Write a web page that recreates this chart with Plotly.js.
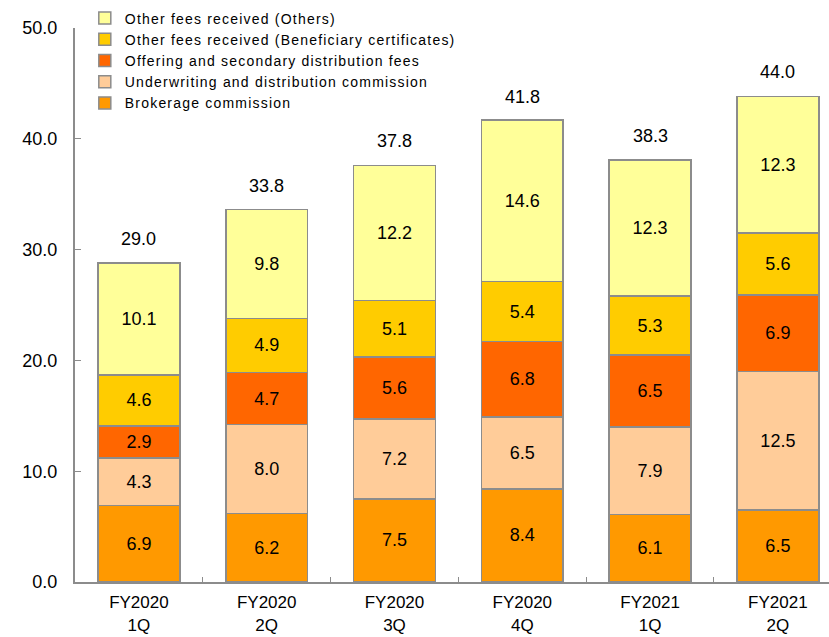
<!DOCTYPE html>
<html>
<head>
<meta charset="utf-8">
<script src="https://cdn.plot.ly/plotly-3.0.1.min.js"></script>
<style>
  html, body { margin: 0; padding: 0; background: #ffffff; }
  #chart { width: 829px; height: 637px; }
  /* slightly tracked legend lettering */
  #chart .legendtext { letter-spacing: 1.2px; }
</style>
</head>
<body>
<div id="chart"></div>
<script>
// Quarterly commission and fee breakdown (billions of yen)
const categories = ["FY2020<br>1Q", "FY2020<br>2Q", "FY2020<br>3Q", "FY2020<br>4Q", "FY2021<br>1Q", "FY2021<br>2Q"];

const brokerage    = [6.9, 6.2, 7.5, 8.4, 6.1, 6.5];
const underwriting = [4.3, 8.0, 7.2, 6.5, 7.9, 12.5];
const offering     = [2.9, 4.7, 5.6, 6.8, 6.5, 6.9];
const beneficiary  = [4.6, 4.9, 5.1, 5.4, 5.3, 5.6];
const others       = [10.1, 9.8, 12.2, 14.6, 12.3, 12.3];
const totals       = [29.0, 33.8, 37.8, 41.8, 38.3, 44.0];

const yTicks = [0, 10, 20, 30, 40, 50];

const FONT = "Liberation Sans, Arial, sans-serif";
const OUTLINE = "#8c8c8c";

function seriesTrace(name, values, color) {
  return {
    type: "bar",
    name: name,
    x: categories,
    y: values,
    marker: { color: color, line: { color: OUTLINE, width: 1.5 } },
    text: values.map(v => v.toFixed(1)),
    textposition: "inside",
    insidetextanchor: "middle",
    textangle: 0,
    constraintext: "none",
    textfont: { family: FONT, size: 18, color: "#000000" },
    hoverinfo: "skip"
  };
}

const data = [
  seriesTrace("Brokerage commission", brokerage, "#FF9900"),
  seriesTrace("Underwriting and distribution commission", underwriting, "#FFCC99"),
  seriesTrace("Offering and secondary distribution fees", offering, "#FF6600"),
  seriesTrace("Other fees received (Beneficiary certificates)", beneficiary, "#FFCC00"),
  seriesTrace("Other fees received (Others)", others, "#FFFF99")
];

// Total labels above each stack
const annotations = categories.map((c, i) => ({
  x: c,
  y: totals[i],
  xref: "x",
  yref: "y",
  text: totals[i].toFixed(1),
  showarrow: false,
  yanchor: "bottom",
  yshift: 10,
  font: { family: FONT, size: 18, color: "#000000" }
}));

const layout = {
  width: 829,
  height: 637,
  margin: { l: 75, r: 0, t: 28, b: 55 },
  paper_bgcolor: "#ffffff",
  plot_bgcolor: "#ffffff",
  barmode: "stack",
  bargap: 0.36,
  showlegend: true,
  legend: {
    x: 0.013,
    y: 1.046,
    xanchor: "left",
    yanchor: "top",
    traceorder: "reversed",
    bgcolor: "rgba(0,0,0,0)",
    font: { family: FONT, size: 14, color: "#000000" },
    itemwidth: 30,
    tracegroupgap: 0
  },
  xaxis: {
    type: "category",
    range: [-0.5, 5.4],
    showline: true,
    linecolor: OUTLINE,
    linewidth: 2,
    ticks: "inside",
    tickson: "boundaries",
    ticklen: 5,
    tickcolor: OUTLINE,
    showgrid: false,
    ticklabelstandoff: 4,
    tickfont: { family: FONT, size: 17, color: "#000000" },
    fixedrange: true
  },
  yaxis: {
    range: [0, 50],
    tickvals: yTicks,
    ticktext: yTicks.map(v => v.toFixed(1)),
    showline: true,
    linecolor: OUTLINE,
    linewidth: 2,
    ticks: "inside",
    ticklen: 6,
    tickcolor: OUTLINE,
    showgrid: false,
    zeroline: false,
    ticklabelstandoff: 12,
    tickfont: { family: FONT, size: 18, color: "#000000" },
    fixedrange: true
  },
  annotations: annotations
};

Plotly.newPlot("chart", data, layout, { displayModeBar: false, staticPlot: true }).then(gd => {
  // the tracked legend text runs a little wider than the measured box; let it show in full
  gd.querySelectorAll(".legend .scrollbox, .legend").forEach(el => el.removeAttribute("clip-path"));
});
</script>
</body>
</html>
